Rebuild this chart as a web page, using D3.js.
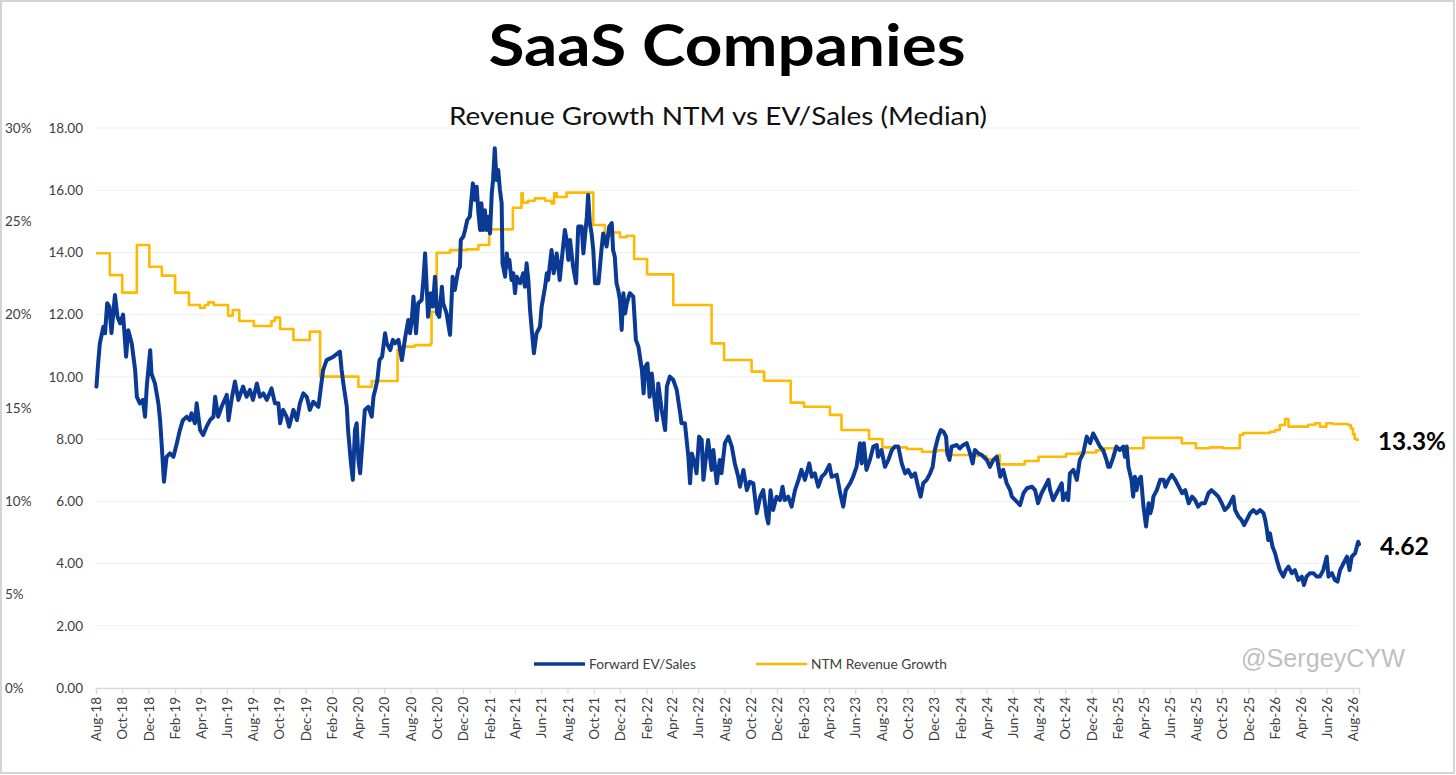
<!DOCTYPE html>
<html><head><meta charset="utf-8">
<script src="https://cdn.jsdelivr.net/npm/d3@7"></script>
<style>html,body{margin:0;padding:0;background:#fff;} svg{display:block;font-family:Lato,"Open Sans","Noto Sans",sans-serif;}</style>
</head><body><svg id="c" width="1456" height="775"></svg>
<script>
const titleText = "SaaS Companies";
const subtitleText = "Revenue Growth NTM vs EV/Sales (Median)";
const legendLabels = ["Forward EV/Sales", "NTM Revenue Growth"];
const watermark = "@SergeyCYW";
const evTicks = [0, 2, 4, 6, 8, 10, 12, 14, 16, 18];
const pctTicks = [0, 0.05, 0.10, 0.15, 0.20, 0.25, 0.30];
const xTickLabels = ["Aug-18","Oct-18","Dec-18","Feb-19","Apr-19","Jun-19","Aug-19","Oct-19","Dec-19","Feb-20","Apr-20","Jun-20","Aug-20","Oct-20","Dec-20","Feb-21","Apr-21","Jun-21","Aug-21","Oct-21","Dec-21","Feb-22","Apr-22","Jun-22","Aug-22","Oct-22","Dec-22","Feb-23","Apr-23","Jun-23","Aug-23","Oct-23","Dec-23","Feb-24","Apr-24","Jun-24","Aug-24","Oct-24","Dec-24","Feb-25","Apr-25","Jun-25","Aug-25","Oct-25","Dec-25","Feb-26","Apr-26","Jun-26","Aug-26"];
const xDomain = ["2018-08-01", "2026-08-15"];

// Forward EV/Sales (median)
const evSeries = [
["2018-08-02",9.69],["2018-08-06",10.44],["2018-08-10",11.08],["2018-08-18",11.61],["2018-08-22",11.40],["2018-08-27",12.37],["2018-09-01",12.26],["2018-09-06",11.41],["2018-09-14",12.63],["2018-09-20",11.93],["2018-09-26",11.72],["2018-10-03",12.00],["2018-10-10",10.65],["2018-10-15",11.50],["2018-10-23",11.08],["2018-10-31",10.22],["2018-11-04",9.36],["2018-11-11",9.15],["2018-11-18",9.26],["2018-11-23",8.72],["2018-11-27",9.69],["2018-12-05",10.86],["2018-12-08",10.10],["2018-12-16",9.79],["2018-12-24",9.15],["2018-12-28",8.61],["2019-01-01",7.76],["2019-01-06",6.63],["2019-01-12",7.43],["2019-01-20",7.54],["2019-01-28",7.43],["2019-02-05",7.87],["2019-02-12",8.29],["2019-02-19",8.61],["2019-02-28",8.72],["2019-03-07",8.61],["2019-03-11",8.83],["2019-03-19",8.51],["2019-03-23",9.15],["2019-03-31",8.29],["2019-04-07",8.13],["2019-04-15",8.40],["2019-04-23",8.61],["2019-05-01",8.72],["2019-05-05",9.36],["2019-05-12",8.72],["2019-05-20",9.04],["2019-06-01",9.42],["2019-06-05",8.61],["2019-06-12",9.26],["2019-06-20",9.85],["2019-06-28",9.26],["2019-07-09",9.69],["2019-07-17",9.36],["2019-07-25",9.58],
["2019-08-01",9.26],["2019-08-10",9.79],["2019-08-17",9.36],["2019-08-25",9.47],["2019-09-02",9.26],["2019-09-13",9.63],["2019-09-21",9.15],["2019-09-29",9.15],["2019-10-03",8.51],["2019-10-10",8.94],["2019-10-18",8.72],["2019-10-24",8.40],["2019-11-03",8.94],["2019-11-11",8.61],["2019-11-18",9.15],["2019-11-26",9.47],["2019-12-04",9.36],["2019-12-11",8.94],["2019-12-19",9.20],["2019-12-31",9.04],["2020-01-11",10.22],["2020-01-19",10.54],["2020-02-04",10.65],["2020-02-19",10.81],["2020-02-23",10.22],["2020-02-27",9.79],["2020-03-06",9.04],["2020-03-09",8.29],["2020-03-15",7.33],["2020-03-20",6.69],["2020-03-25",8.29],["2020-03-29",8.51],["2020-04-02",7.33],["2020-04-06",6.90],["2020-04-10",7.65],["2020-04-17",8.94],["2020-04-25",9.04],["2020-05-03",8.72],["2020-05-07",9.36],["2020-05-11",9.58],["2020-05-16",9.90],["2020-05-21",10.54],["2020-05-27",10.65],["2020-06-03",11.40],["2020-06-07",11.08],["2020-06-15",10.86],["2020-06-21",11.19],["2020-06-26",11.08],["2020-07-04",11.19],["2020-07-12",10.54],["2020-07-20",11.29],["2020-07-27",11.83],["2020-07-31",11.40],
["2020-08-04",11.83],["2020-08-08",12.58],["2020-08-14",11.40],["2020-08-19",12.37],["2020-08-27",12.47],["2020-08-31",13.11],["2020-09-04",13.97],["2020-09-08",12.79],["2020-09-11",11.93],["2020-09-17",12.69],["2020-09-22",12.26],["2020-09-27",13.22],["2020-10-02",12.04],["2020-10-07",11.93],["2020-10-13",12.90],["2020-10-16",12.37],["2020-10-24",12.04],["2020-11-01",11.35],["2020-11-07",13.22],["2020-11-12",12.79],["2020-11-20",13.44],["2020-11-24",13.54],["2020-11-26",14.40],["2020-12-02",14.51],["2020-12-06",14.72],["2020-12-11",15.04],["2020-12-17",15.15],["2020-12-24",16.22],["2020-12-29",15.69],["2021-01-02",16.11],["2021-01-06",15.26],["2021-01-10",14.72],["2021-01-13",15.58],["2021-01-17",14.72],["2021-01-21",15.36],["2021-01-25",14.72],["2021-01-29",15.15],["2021-02-02",14.61],["2021-02-06",15.90],["2021-02-09",16.33],["2021-02-13",17.35],["2021-02-17",16.33],["2021-02-21",16.65],["2021-02-25",16.01],["2021-03-01",15.58],["2021-03-03",13.65],["2021-03-09",13.22],["2021-03-13",13.97],["2021-03-16",13.54],["2021-03-19",13.76],["2021-03-24",13.11],["2021-03-28",13.33],["2021-04-01",12.69],["2021-04-05",13.22],["2021-04-13",13.01],["2021-04-20",13.33],["2021-04-24",12.90],["2021-04-28",13.65],["2021-05-02",13.11],["2021-05-06",12.15],["2021-05-10",11.51],["2021-05-15",10.76],["2021-05-21",11.40],["2021-05-29",11.61],["2021-06-02",12.26],["2021-06-10",12.90],["2021-06-14",13.33],["2021-06-17",13.11],["2021-06-25",14.08],["2021-06-30",13.33],["2021-07-07",13.97],["2021-07-14",13.11],["2021-07-21",14.08],["2021-07-26",14.72],["2021-07-30",14.40],
["2021-08-03",13.76],["2021-08-07",14.40],["2021-08-14",13.54],["2021-08-21",13.01],["2021-08-26",14.83],["2021-09-03",14.83],["2021-09-07",13.97],["2021-09-15",15.15],["2021-09-18",15.85],["2021-09-22",14.94],["2021-09-26",14.61],["2021-09-30",14.08],["2021-10-04",13.01],["2021-10-12",13.01],["2021-10-19",14.08],["2021-10-23",14.61],["2021-10-31",14.19],["2021-11-06",14.83],["2021-11-12",14.94],["2021-11-15",14.08],["2021-11-19",13.86],["2021-11-23",13.01],["2021-11-27",12.79],["2021-12-01",12.47],["2021-12-05",11.51],["2021-12-09",12.69],["2021-12-13",12.04],["2021-12-17",12.37],["2021-12-24",12.69],["2022-01-01",12.58],["2022-01-07",11.19],["2022-01-13",10.97],["2022-01-21",10.22],["2022-01-25",9.47],["2022-01-29",10.33],["2022-02-03",10.43],["2022-02-08",9.36],["2022-02-13",10.11],["2022-02-21",9.04],["2022-02-25",8.61],["2022-02-28",9.79],["2022-03-08",8.94],["2022-03-16",8.29],["2022-03-20",9.69],["2022-03-27",10.01],["2022-04-04",9.90],["2022-04-12",9.58],["2022-04-20",8.83],["2022-04-23",8.51],["2022-05-01",8.51],["2022-05-09",7.43],["2022-05-13",6.58],["2022-05-17",7.54],["2022-05-24",7.22],["2022-05-28",6.90],["2022-06-03",8.08],["2022-06-09",7.97],["2022-06-13",6.69],["2022-06-20",7.54],["2022-06-24",7.97],["2022-07-02",7.01],["2022-07-06",7.65],["2022-07-14",6.58],["2022-07-21",7.33],["2022-07-25",6.90],
["2022-08-02",7.87],["2022-08-10",8.08],["2022-08-18",7.76],["2022-08-25",7.22],["2022-09-02",6.79],["2022-09-06",6.47],["2022-09-14",7.01],["2022-09-22",6.36],["2022-09-29",6.63],["2022-10-07",6.58],["2022-10-15",5.62],["2022-10-23",6.15],["2022-10-30",6.36],["2022-11-07",5.51],["2022-11-11",5.29],["2022-11-16",6.36],["2022-11-22",5.72],["2022-11-30",6.15],["2022-12-08",6.04],["2022-12-14",6.47],["2022-12-19",6.04],["2022-12-27",6.15],["2023-01-04",5.83],["2023-01-12",6.36],["2023-01-20",6.69],["2023-01-27",7.01],["2023-02-04",6.69],["2023-02-14",7.22],["2023-02-20",6.79],["2023-02-27",6.90],["2023-03-07",6.47],["2023-03-15",6.79],["2023-03-23",6.90],["2023-04-02",7.17],["2023-04-07",6.79],["2023-04-19",6.85],["2023-04-27",6.26],["2023-05-04",5.83],["2023-05-10",6.36],["2023-05-20",6.58],["2023-05-27",6.79],["2023-06-04",7.11],["2023-06-12",7.87],["2023-06-16",7.22],["2023-06-21",7.87],["2023-06-27",7.01],["2023-07-05",7.33],["2023-07-13",7.76],["2023-07-21",7.81],["2023-07-24",7.43],
["2023-08-01",7.65],["2023-08-09",7.11],["2023-08-17",7.33],["2023-08-25",7.65],["2023-09-01",7.76],["2023-09-09",7.76],["2023-09-17",7.22],["2023-09-25",6.90],["2023-10-02",7.01],["2023-10-10",6.79],["2023-10-18",6.90],["2023-10-25",6.47],["2023-10-31",6.15],["2023-11-06",6.58],["2023-11-14",6.69],["2023-11-22",6.90],["2023-11-28",7.11],["2023-12-03",7.65],["2023-12-11",8.08],["2023-12-17",8.29],["2023-12-23",8.24],["2023-12-29",8.08],["2024-01-01",7.54],["2024-01-06",7.33],["2024-01-11",7.76],["2024-01-23",7.81],["2024-01-30",7.70],["2024-02-07",7.81],["2024-02-15",7.87],["2024-02-23",7.54],["2024-02-29",7.22],["2024-03-05",7.65],["2024-03-13",7.54],["2024-03-21",7.49],["2024-04-02",7.33],["2024-04-09",7.11],["2024-04-17",7.33],["2024-04-25",7.43],["2024-05-03",6.79],["2024-05-10",7.01],["2024-05-18",6.58],["2024-05-26",6.36],["2024-05-30",6.15],["2024-06-07",6.04],["2024-06-18",5.88],["2024-06-26",6.26],["2024-07-04",6.42],["2024-07-16",6.47],["2024-07-23",6.36],["2024-07-30",5.94],
["2024-08-07",6.26],["2024-08-15",6.47],["2024-08-23",6.69],["2024-08-27",6.36],["2024-09-03",6.04],["2024-09-11",6.26],["2024-09-19",6.47],["2024-09-23",6.58],["2024-09-26",6.04],["2024-10-04",6.26],["2024-10-08",6.04],["2024-10-12",6.90],["2024-10-20",7.01],["2024-10-28",6.69],["2024-11-04",7.33],["2024-11-12",7.54],["2024-11-20",8.08],["2024-11-28",7.87],["2024-12-05",8.18],["2024-12-13",7.97],["2024-12-21",7.76],["2024-12-28",7.65],["2025-01-05",7.33],["2025-01-09",7.11],["2025-01-13",7.11],["2025-01-21",7.43],["2025-01-28",7.76],["2025-02-05",7.65],["2025-02-13",7.76],["2025-02-17",7.43],["2025-02-21",7.76],["2025-02-25",7.11],["2025-03-04",6.69],["2025-03-08",6.15],["2025-03-12",6.79],["2025-03-16",6.36],["2025-03-20",6.69],["2025-03-26",6.79],["2025-04-01",5.83],["2025-04-07",5.19],["2025-04-13",5.94],["2025-04-17",5.62],["2025-04-21",5.83],["2025-04-24",6.15],["2025-05-02",6.36],["2025-05-10",6.69],["2025-05-18",6.69],["2025-05-22",6.47],["2025-05-29",6.69],["2025-06-06",6.85],["2025-06-14",6.69],["2025-06-22",6.47],["2025-06-30",6.26],["2025-07-07",6.36],["2025-07-15",5.94],["2025-07-23",6.15],["2025-07-30",6.04],
["2025-08-06",5.83],["2025-08-14",5.94],["2025-08-22",5.94],["2025-08-30",6.26],["2025-09-06",6.36],["2025-09-14",6.26],["2025-09-22",6.15],["2025-09-30",5.94],["2025-10-07",5.72],["2025-10-15",5.83],["2025-10-23",6.04],["2025-10-27",6.15],["2025-10-31",5.72],["2025-11-08",5.51],["2025-11-15",5.40],["2025-11-21",5.24],["2025-11-27",5.40],["2025-12-05",5.62],["2025-12-12",5.72],["2025-12-20",5.62],["2025-12-28",5.72],["2026-01-05",5.62],["2026-01-09",5.40],["2026-01-13",5.08],["2026-01-16",4.76],["2026-01-20",4.97],["2026-01-26",4.54],["2026-02-01",4.33],["2026-02-05",4.11],["2026-02-12",3.79],["2026-02-20",3.58],["2026-02-26",3.79],["2026-03-04",3.90],["2026-03-12",3.69],["2026-03-19",3.79],["2026-03-27",3.47],["2026-04-04",3.58],["2026-04-09",3.31],["2026-04-15",3.58],["2026-04-23",3.69],["2026-05-01",3.69],["2026-05-09",3.58],["2026-05-16",3.58],["2026-05-24",3.79],["2026-06-01",4.22],["2026-06-05",3.58],["2026-06-13",3.69],["2026-06-20",3.47],["2026-06-26",3.42],["2026-07-02",3.79],["2026-07-10",4.01],["2026-07-18",4.22],["2026-07-24",3.79],["2026-07-29",4.22],["2026-08-06",4.33],["2026-08-13",4.70],["2026-08-15",4.62]
];

// NTM revenue growth (median), value holds from each date to the next
const growthSeries = [
["2018-08-01",0.2329],["2018-09-02",0.2212],["2018-10-01",0.2118],["2018-11-04",0.2373],["2018-12-03",0.2257],["2019-01-01",0.2209],["2019-02-01",0.2118],["2019-03-05",0.2052],["2019-03-31",0.2037],["2019-04-11",0.2052],["2019-04-19",0.2066],["2019-05-02",0.2052],["2019-06-04",0.1995],["2019-06-15",0.2025],["2019-06-30",0.1966],["2019-08-03",0.1939],["2019-09-13",0.1966],["2019-09-21",0.1984],["2019-10-03",0.1923],["2019-11-03",0.1864],["2019-12-11",0.1909],["2020-01-04",0.1668],["2020-04-02",0.1614],["2020-05-03",0.1645],["2020-07-02",0.1811],["2020-07-12",0.1829],["2020-08-11",0.1837],["2020-09-17",0.1846],["2020-09-19",0.2016],["2020-10-01",0.2332],["2020-11-01",0.2346],["2020-12-10",0.2350],["2021-01-06",0.2373],["2021-01-31",0.2457],["2021-03-27",0.2573],["2021-04-16",0.2650],["2021-04-19",0.2600],["2021-05-01",0.2610],["2021-05-17",0.2623],["2021-06-10",0.2610],["2021-06-25",0.2596],["2021-07-01",0.2650],["2021-07-07",0.2630],["2021-07-30",0.2654],["2021-09-30",0.2480],["2021-10-27",0.2423],["2021-11-15",0.2440],["2021-12-01",0.2415],["2021-12-17",0.2423],["2022-01-03",0.2298],["2022-02-02",0.2216],["2022-04-04",0.2052],["2022-07-02",0.1846],["2022-07-31",0.1757],["2022-10-03",0.1695],["2022-11-01",0.1646],["2023-01-02",0.1529],["2023-02-02",0.1507],["2023-04-03",0.1463],["2023-04-30",0.1382],["2023-07-03",0.1334],["2023-08-03",0.1289],["2023-09-29",0.1280],["2023-11-03",0.1266],["2023-12-07",0.1273],["2023-12-31",0.1248],["2024-02-23",0.1243],["2024-04-01",0.1225],["2024-04-25",0.1248],["2024-05-02",0.1198],["2024-06-29",0.1216],["2024-07-31",0.1239],["2024-10-03",0.1254],["2024-11-03",0.1262],["2024-12-12",0.1273],["2025-01-01",0.1284],["2025-04-01",0.1341],["2025-06-29",0.1311],["2025-08-01",0.1284],["2025-09-02",0.1289],["2025-10-03",0.1284],["2025-11-11",0.1355],["2025-11-19",0.1366],["2026-01-20",0.1373],["2026-02-01",0.1382],["2026-02-12",0.1409],["2026-02-24",0.1441],["2026-03-04",0.1400],["2026-04-19",0.1410],["2026-05-05",0.1418],["2026-05-16",0.1400],["2026-05-31",0.1418],["2026-06-15",0.1414],["2026-07-20",0.1409],["2026-07-27",0.1390],["2026-08-01",0.1360],["2026-08-05",0.1335],["2026-08-09",0.1330],["2026-08-15",0.1330]
];

const W = 1456, H = 775;
const L = 96, R = 1359, T = 128, B = 688;
const parse = d3.timeParse("%Y-%m-%d");
const parseTick = d3.timeParse("%b-%y");
const ev = evSeries.map(d => ({date: parse(d[0]), v: d[1]}));
const gr = growthSeries.map(d => ({date: parse(d[0]), v: d[1]}));

const svg = d3.select("#c");
svg.append("rect").attr("x", 1).attr("y", 1).attr("width", W - 3).attr("height", H - 3)
  .attr("fill", "#fff").attr("stroke", "#d4d4d4").attr("stroke-width", 2);

const x = d3.scaleTime().domain(xDomain.map(parse)).range([L, R]);
const y = d3.scaleLinear().domain([0, 18]).range([B, T]);
const y2 = d3.scaleLinear().domain([0, 0.30]).range([B, T]);

function fit(sel, w) {
  const fs = parseFloat(sel.attr("font-size"));
  const len = sel.node().getComputedTextLength();
  if (len > 0) sel.attr("font-size", fs * w / len);
  return sel;
}

// gridlines
svg.append("g").selectAll("line").data(evTicks.filter(d => d > 0)).join("line")
  .attr("x1", L).attr("x2", R).attr("y1", d => y(d)).attr("y2", d => y(d))
  .attr("stroke", "#efefef").attr("stroke-width", 1);

// left EV axis labels
const yAxis = d3.axisLeft(y).tickValues(evTicks).tickFormat(d3.format(".2f")).tickSize(0).tickPadding(0);
const gy = svg.append("g").attr("transform", `translate(83,0)`).call(yAxis);
gy.select(".domain").remove();
gy.selectAll("text").attr("font-size", 13.5).attr("fill", "#404040").attr("font-family", "Lato, sans-serif");

// far-left percent axis labels
const y2Axis = d3.axisRight(y2).tickValues(pctTicks).tickFormat(d3.format(".0%")).tickSize(0).tickPadding(0);
const gy2 = svg.append("g").attr("transform", `translate(5,0)`).call(y2Axis);
gy2.select(".domain").remove();
gy2.selectAll("text").attr("font-size", 13.5).attr("fill", "#404040").attr("font-family", "Lato, sans-serif");

// x axis
const tickDates = xTickLabels.map(parseTick);
const xAxis = d3.axisBottom(x).tickValues(tickDates).tickFormat(d3.timeFormat("%b-%y")).tickSize(6).tickPadding(0);
const gx = svg.append("g").attr("transform", `translate(0,${B})`).call(xAxis);
gx.select(".domain").attr("stroke", "#d9d9d9").attr("stroke-width", 1.5);
gx.selectAll(".tick line").attr("stroke", "#d9d9d9").attr("stroke-width", 1.2);
gx.selectAll(".tick text")
  .attr("font-size", 13.5).attr("fill", "#404040").attr("font-family", "Lato, sans-serif")
  .attr("text-anchor", "end").attr("transform", "rotate(-90)")
  .attr("x", -9).attr("y", 0).attr("dy", "0.35em");

// lines
const growthLine = d3.line().x(d => x(d.date)).y(d => y2(d.v)).curve(d3.curveStepAfter);
svg.append("path").datum(gr).attr("d", growthLine)
  .attr("fill", "none").attr("stroke", "#ffb900").attr("stroke-width", 2.6).attr("stroke-linejoin", "round");

const evLine = d3.line().x(d => x(d.date)).y(d => y(d.v)).curve(d3.curveLinear);
svg.append("path").datum(ev).attr("d", evLine)
  .attr("fill", "none").attr("stroke", "#0b3a94").attr("stroke-width", 4).attr("stroke-linejoin", "round").attr("stroke-linecap", "round");

// title
svg.append("text").attr("x", 727).attr("y", 66).attr("text-anchor", "middle")
  .attr("font-size", 57).attr("font-weight", 700).attr("fill", "#000")
  .attr("textLength", 477).attr("lengthAdjust", "spacingAndGlyphs").text(titleText);
svg.append("text").attr("x", 718).attr("y", 125).attr("text-anchor", "middle")
  .attr("font-size", 25.5).attr("fill", "#111")
  .attr("textLength", 538).attr("lengthAdjust", "spacingAndGlyphs").text(subtitleText);

// legend
const lg = svg.append("g");
lg.append("line").attr("x1", 534).attr("x2", 585).attr("y1", 664).attr("y2", 664).attr("stroke", "#0b3a94").attr("stroke-width", 3.6);
fit(lg.append("text").attr("x", 589).attr("y", 668.5).attr("font-size", 12.5).attr("fill", "#404040").text(legendLabels[0]), 107);
lg.append("line").attr("x1", 756).attr("x2", 807).attr("y1", 664).attr("y2", 664).attr("stroke", "#ffb900").attr("stroke-width", 2.6);
fit(lg.append("text").attr("x", 811).attr("y", 668.5).attr("font-size", 12.5).attr("fill", "#404040").text(legendLabels[1]), 136);

// watermark
fit(svg.append("text").attr("x", 1241).attr("y", 667).attr("font-size", 25)
  .attr("font-family", "'Liberation Sans', Arial, sans-serif").attr("fill", "#bfbfbf").text(watermark), 164);

// end labels
const lastEv = ev[ev.length - 1], lastGr = gr[gr.length - 1];
fit(svg.append("text").attr("x", 1378).attr("y", y2(lastGr.v) + 10).attr("font-size", 24).attr("font-weight", 700)
  .attr("fill", "#000").text(d3.format(".1%")(lastGr.v)), 68);
fit(svg.append("text").attr("x", 1380).attr("y", y(lastEv.v) + 10.5).attr("font-size", 24).attr("font-weight", 700)
  .attr("fill", "#000").text(d3.format(".2f")(lastEv.v)), 49);
</script>
</body></html>
